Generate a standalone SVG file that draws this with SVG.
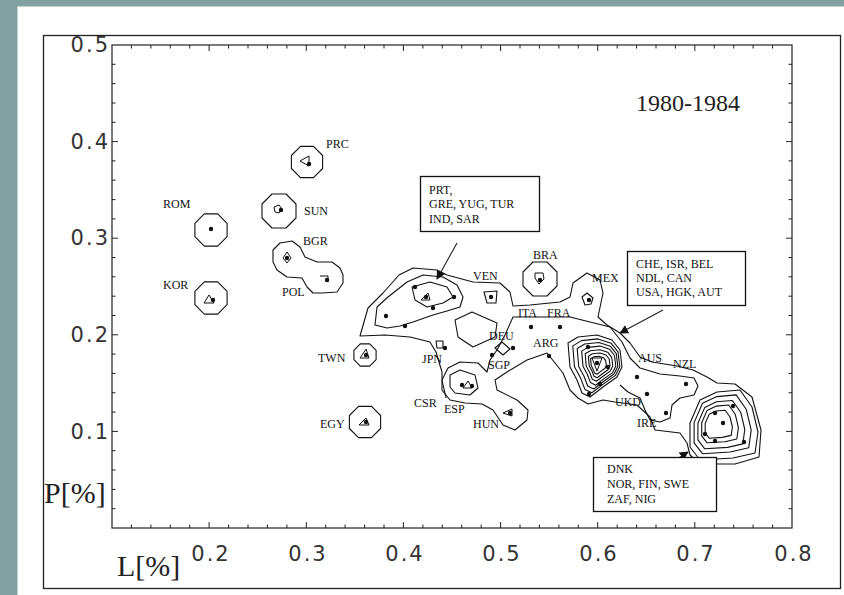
<svg xmlns="http://www.w3.org/2000/svg" xmlns:xlink="http://www.w3.org/1999/xlink" width="844" height="595" viewBox="0 0 844 595">
<style>
.ax{fill:none;stroke:#222;stroke-width:1.2}
.tk{fill:none;stroke:#222;stroke-width:1}
.ct{fill:none;stroke:#111;stroke-width:1.1;stroke-linejoin:round}
.mk{fill:none;stroke:#111;stroke-width:1}
.dt{fill:#111}
.num{font-family:"DejaVu Sans",sans-serif;font-size:21px;fill:#333;letter-spacing:2px}
.lab{font-family:"Liberation Serif","Times New Roman",serif;font-size:12px;fill:#111}
.box{fill:#fff;stroke:#111;stroke-width:1.3}
.big{font-family:"Liberation Serif","Times New Roman",serif;fill:#222}
.arr{fill:none;stroke:#222;stroke-width:1.1}
</style>
<defs>
<marker id="ah" viewBox="0 0 10 10" refX="9" refY="5" markerWidth="9" markerHeight="9" markerUnits="userSpaceOnUse" orient="auto">
<path d="M0,0L10,5L0,10Z" fill="#111"/>
</marker>
<path id="tickB" d="M131.4 528v-3.5M150.9 528v-3.5M170.3 528v-3.5M189.7 528v-3.5M228.6 528v-3.5M248 528v-3.5M267.4 528v-3.5M286.9 528v-3.5M325.7 528v-3.5M345.1 528v-3.5M364.6 528v-3.5M384 528v-3.5M422.9 528v-3.5M442.3 528v-3.5M461.7 528v-3.5M481.2 528v-3.5M520 528v-3.5M539.4 528v-3.5M558.9 528v-3.5M578.3 528v-3.5M617.2 528v-3.5M636.6 528v-3.5M656 528v-3.5M675.4 528v-3.5M714.3 528v-3.5M733.7 528v-3.5M753.1 528v-3.5M772.6 528v-3.5M209.1 528v-6M306.3 528v-6M403.4 528v-6M500.6 528v-6M597.7 528v-6M694.8 528v-6"/>
<path id="tickL" d="M112 508.7h3.5M112 489.4h3.5M112 470h3.5M112 450.7h3.5M112 412.1h3.5M112 392.8h3.5M112 373.4h3.5M112 354.1h3.5M112 315.5h3.5M112 296.2h3.5M112 276.8h3.5M112 257.5h3.5M112 218.9h3.5M112 199.6h3.5M112 180.2h3.5M112 160.9h3.5M112 122.3h3.5M112 103h3.5M112 83.6h3.5M112 64.3h3.5M112 431.4h6M112 334.8h6M112 238.2h6M112 141.6h6"/>
</defs>

<rect x="0" y="0" width="844" height="595" fill="#84a1a2"/>
<rect x="17.5" y="6.5" width="826.5" height="588.5" fill="#fff"/>
<rect x="43.5" y="35.5" width="797" height="553" fill="none" stroke="#222" stroke-width="1.3"/>

<g id="axes">
<rect class="ax" x="112" y="45" width="680" height="483"/>
<use xlink:href="#tickB" class="tk"/>
<use xlink:href="#tickB" class="tk" transform="translate(0,573) scale(1,-1)"/>
<use xlink:href="#tickL" class="tk"/>
<use xlink:href="#tickL" class="tk" transform="translate(904,0) scale(-1,1)"/>
<g class="num" text-anchor="end">
<text x="110" y="52">0.5</text>
<text x="110" y="149">0.4</text>
<text x="110" y="245">0.3</text>
<text x="110" y="342">0.2</text>
<text x="110" y="439">0.1</text>
</g>
<g class="num" text-anchor="middle">
<text x="211" y="561">0.2</text>
<text x="308" y="561">0.3</text>
<text x="405" y="561">0.4</text>
<text x="502" y="561">0.5</text>
<text x="599" y="561">0.6</text>
<text x="696" y="561">0.7</text>
<text x="794" y="561">0.8</text>
</g>
<text class="big" x="44" y="503" font-size="30">P[%]</text>
<text class="big" x="117" y="576" font-size="30">L[%]</text>
<text class="big" x="636" y="111" font-size="24">1980-1984</text>
</g>

<g id="connectors">
<!-- isolated octagon contours -->
<path class="ct" d="M313.5,146.4L322.6,155.5L322.6,168.5L313.5,177.6L300.5,177.6L291.4,168.5L291.4,155.5L300.5,146.4Z"/>
<path class="ct" d="M286,194L296,204L296,218L286,228L272,228L262,218L262,204L272,194Z"/>
<path class="ct" d="M217.7,213.9L227.1,223.3L227.1,236.7L217.7,246.1L204.3,246.1L194.9,236.7L194.9,223.3L204.3,213.9Z"/>
<path class="ct" d="M217.7,281.9L227.1,291.3L227.1,304.7L217.7,314.1L204.3,314.1L194.9,304.7L194.9,291.3L204.3,281.9Z"/>
<path class="ct" d="M547,262L557,272L557,286L547,296L533,296L523,286L523,272L533,262Z"/>
<path class="ct" d="M369.7,343.9L376.1,350.3L376.1,359.7L369.7,366.1L360.3,366.1L353.9,359.7L353.9,350.3L360.3,343.9Z"/>
<path class="ct" d="M371.5,406.4L380.6,415.5L380.6,428.5L371.5,437.6L358.5,437.6L349.4,428.5L349.4,415.5L358.5,406.4Z"/>
<!-- BGR / POL -->
<path class="ct" d="M273,250L280,243L292,241L300,247L305,257L317,262L332,262L340,268L343,275L343,283L337,292L322,293L313,293L307,287L302,278L287,277L277,270L273,262Z"/>
<!-- big outer contour -->
<path class="ct" d="M360,336L368,308L383,293L399,275L413,268L437,270L447,275L473,282L500,283L510,292L513,306L530,305L560,302L570,297L573,283L587,273L600,280L603,293L598,317L607,325L620,333L630,343L640,357L652,362L677,366L693,370L707,377L717,383L735,384L752,397L761,430L759,457L735,464L700,464L690,455L687,443L680,433L655,430L650,417L637,405L615,402L603,400L588,404L578,398L570,390L563,373L547,353L527,360L507,372L495,380L497,390L517,400L528,410L527,420L515,430L503,425L493,410L482,404L465,403L450,400L442,390L442,372L436,352L430,342L410,337L385,335Z"/>
<!-- left blob -->
<path class="ct" d="M375,325L377,307L388,297L407,282L423,275L443,277L457,285L463,297L460,307L447,311L433,315L413,322L400,326L387,328Z"/>
<path class="ct" d="M412,287L415,300L427,307L443,303L453,297L447,287L430,282Z"/>
<!-- VEN, MEX small loops -->
<path class="ct" d="M484,292L497,291L496,303L487,303Z"/>
<path class="ct" d="M582,297L587,293L593,298L591,304L585,305Z"/>
<!-- hole, DEU, JPN -->
<path class="ct" d="M455,320L472,312L497,323L495,337L473,347L458,337Z"/>
<path class="ct" d="M495,348L502,342L510,349L503,355Z"/>
<path class="ct" d="M436,341L443,341L443,348L437,348Z"/>
<!-- ESP and second level contour -->
<path class="ct" d="M450,375L460,370L475,375L478,388L470,395L455,393L450,387Z"/>
<path class="ct" d="M446,398L442,380L448,368L460,362L478,363L487,372L490,360L497,350L505,335L513,317L570,317L590,322L610,327L622,342L630,358L640,368L660,374L680,376L694,378L698,386L694,395L680,398L672,405L670,418L660,422L650,420L645,410L640,398L628,392L620,385"/>
<!-- CHE rings -->
<path class="ct" d="M568,343L578,337L597,335L612,340L620,350L622,367L617,377L603,387L590,397L582,393L577,380L570,367Z"/>
<path class="ct" d="M572.8,345.9L581.5,340.6L598,338.9L611.1,343.2L618,351.9L619.8,366.7L615.4,375.4L603.2,384.1L591.9,392.8L584.9,389.4L580.6,378.1L574.5,366.7Z"/>
<path class="ct" d="M577.2,348.5L584.7,344L599,342.5L610.3,346.2L616.3,353.7L617.8,366.5L614,374L603.5,381.5L593.7,389L587.7,386L584,376.3L578.7,366.5Z"/>
<path class="ct" d="M581.7,351.1L588,347.4L600,346.1L609.5,349.2L614.5,355.5L615.8,366.3L612.6,372.6L603.8,378.9L595.6,385.2L590.5,382.6L587.4,374.5L583,366.3Z"/>
<path class="ct" d="M585.2,353.8L590.3,350.7L600,349.7L607.7,352.2L611.7,357.3L612.8,366L610.2,371.1L603.1,376.2L596.4,381.3L592.3,379.3L589.8,372.7L586.2,366Z"/>
<path class="ct" d="M588.4,356.2L592.4,353.8L600,353L606,355L609.2,359L610,365.8L608,369.8L602.4,373.8L597.2,377.8L594,376.2L592,371L589.2,365.8Z"/>
<path class="ct" d="M590.6,358.6L593.5,356.9L599,356.3L603.4,357.7L605.7,360.6L606.3,365.6L604.8,368.5L600.7,371.4L597,374.3L594.6,373.1L593.2,369.4L591.2,365.6Z"/>
<!-- DNK rings -->
<path class="ct" d="M690,423L700,400L717,392L740,390L752,407L758,432L755,453L733,458L700,460L690,447Z"/>
<path class="ct" d="M694.1,422.6L702.5,403.3L716.8,396.6L736.1,394.9L746.2,409.2L751.2,430.2L748.7,447.8L730.2,452L702.5,453.7L694.1,442.8Z"/>
<path class="ct" d="M697.9,423.2L704.8,407.4L716.5,401.8L732.4,400.5L740.7,412.2L744.8,429.5L742.8,443.9L727.6,447.4L704.8,448.8L697.9,439.8Z"/>
<path class="ct" d="M701.7,422.8L707.1,410.4L716.3,406.1L728.7,405L735.2,414.2L738.4,427.7L736.8,439L724.9,441.7L707.1,442.8L701.7,435.8Z"/>
<path class="ct" d="M705.2,423.4L709.2,414.2L716,411L725.2,410.2L730,417L732.4,427L731.2,435.4L722.4,437.4L709.2,438.2L705.2,433Z"/>
<!-- arrows -->
<path class="arr" d="M457,243L437,279" marker-end="url(#ah)"/>
<path class="arr" d="M663,310L620,333" marker-end="url(#ah)"/>
<path class="arr" d="M657,472L688,452" marker-end="url(#ah)"/>
</g>

<g id="markers">
<path class="mk" d="M300,161L309,156L309,166Z"/>
<path class="mk" d="M274,207L279,205L282,209L279,213L275,212Z"/>
<path class="mk" d="M204,303L209,295L214,303Z"/>
<path class="mk" d="M283,258L287,252L291,258L287,263Z"/>
<path class="mk" d="M320,276L328,276L328,282"/>
<path class="mk" d="M535,273L543,273L544,279L539,284L535,278Z"/>
<path class="mk" d="M360,358L366,349L369,358Z"/>
<path class="mk" d="M359,425L366,418L369,425Z"/>
<path class="mk" d="M503,413L512,409L512,416Z"/>
<path class="mk" d="M463,388L468,381L472,388Z"/>
<path class="mk" d="M421,300L428,293L430,300Z"/>
<path class="mk" d="M592,358L602,358L597,371Z"/>
<g class="dt">
<circle cx="211" cy="229" r="2.2"/><circle cx="309" cy="164" r="2.2"/><circle cx="281" cy="210" r="2.2"/>
<circle cx="287" cy="258" r="2.2"/><circle cx="327" cy="280" r="2.2"/><circle cx="213" cy="300" r="2.2"/>
<circle cx="540" cy="280" r="2.2"/><circle cx="491" cy="297" r="2.2"/><circle cx="589" cy="300" r="2.2"/>
<circle cx="366" cy="355" r="2.2"/><circle cx="366" cy="422" r="2.2"/><circle cx="445" cy="348" r="2.2"/>
<circle cx="513" cy="348" r="2.2"/><circle cx="492" cy="355" r="2.2"/><circle cx="531" cy="327" r="2.2"/>
<circle cx="560" cy="327" r="2.2"/><circle cx="549" cy="356" r="2.2"/><circle cx="462" cy="385" r="2.2"/>
<circle cx="472" cy="386" r="2.2"/><circle cx="510" cy="413" r="2.2"/>
<circle cx="415" cy="287" r="2.2"/><circle cx="426" cy="297" r="2.2"/><circle cx="454" cy="297" r="2.2"/>
<circle cx="433" cy="308" r="2.2"/><circle cx="386" cy="316" r="2.2"/><circle cx="405" cy="326" r="2.2"/>
<circle cx="588" cy="347" r="2.2"/><circle cx="597" cy="363" r="2.2"/><circle cx="608" cy="367" r="2.2"/>
<circle cx="600" cy="384" r="2.2"/><circle cx="589" cy="394" r="2.2"/><circle cx="637" cy="377" r="2.2"/>
<circle cx="647" cy="394" r="2.2"/><circle cx="666" cy="413" r="2.2"/><circle cx="686" cy="384" r="2.2"/>
<circle cx="715" cy="413" r="2.2"/><circle cx="733" cy="406" r="2.2"/><circle cx="723" cy="423" r="2.2"/>
<circle cx="705" cy="434" r="2.2"/><circle cx="715" cy="441" r="2.2"/><circle cx="744" cy="442" r="2.2"/>
</g>
</g>

<g id="labels" class="lab">
<text x="326" y="148">PRC</text>
<text x="163" y="208">ROM</text>
<text x="304" y="215">SUN</text>
<text x="303" y="245">BGR</text>
<text x="282" y="296">POL</text>
<text x="163" y="289">KOR</text>
<text x="533" y="259">BRA</text>
<text x="473" y="280">VEN</text>
<text x="592" y="282">MEX</text>
<text x="518" y="317">ITA</text>
<text x="547" y="317">FRA</text>
<text x="489" y="340">DEU</text>
<text x="533" y="347">ARG</text>
<text x="488" y="369">SGP</text>
<text x="318" y="362">TWN</text>
<text x="422" y="363">JPN</text>
<text x="414" y="407">CSR</text>
<text x="444" y="413">ESP</text>
<text x="473" y="428">HUN</text>
<text x="320" y="428">EGY</text>
<text x="638" y="362">AUS</text>
<text x="673" y="368">NZL</text>
<text x="615" y="406">UKD</text>
<text x="637" y="427">IRE</text>
</g>

<g id="box-prt">
<rect class="box" x="420.5" y="176.5" width="119" height="55"/>
<g class="lab" font-size="12.5">
<text x="429" y="194">PRT,</text>
<text x="429" y="208">GRE, YUG, TUR</text>
<text x="429" y="223">IND, SAR</text>
</g>
</g>
<g id="box-che">
<rect class="box" x="627.5" y="251.5" width="118" height="54"/>
<g class="lab" font-size="12.5">
<text x="636" y="268">CHE, ISR, BEL</text>
<text x="636" y="282">NDL, CAN</text>
<text x="636" y="296">USA, HGK, AUT</text>
</g>
</g>
<g id="box-dnk">
<rect class="box" x="593.5" y="457.5" width="123" height="54"/>
<g class="lab" font-size="12.5">
<text x="607" y="473">DNK</text>
<text x="607" y="488">NOR, FIN, SWE</text>
<text x="607" y="503">ZAF, NIG</text>
</g>
</g>
</svg>
